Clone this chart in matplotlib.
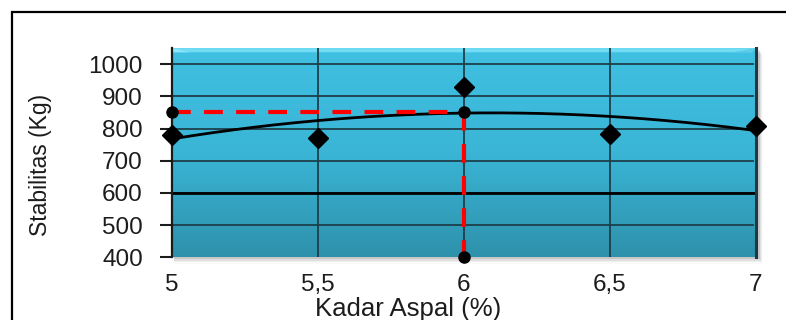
import matplotlib
matplotlib.use("Agg")
import matplotlib.pyplot as plt
import numpy as np
from matplotlib.colors import LinearSegmentedColormap
from matplotlib.patches import Polygon, Rectangle

# asphalt content (%) vs Marshall stability (kg)
kadar_aspal = [5.0, 5.5, 6.0, 6.5, 7.0]
stabilitas = [781, 772, 928, 784, 807]

# optimum read-off from the trend curve
opt_kadar = 6.0
opt_stabilitas = 850
batas_min = 600  # minimum stability requirement

x_ticks = [5, 5.5, 6, 6.5, 7]
x_ticklabels = ["5", "5,5", "6", "6,5", "7"]
y_ticks = [400, 500, 600, 700, 800, 900, 1000]

plt.rcParams["font.family"] = ["Liberation Sans", "DejaVu Sans"]
text_c = "#1c1c1c"

W, H = 786, 320
fig = plt.figure(figsize=(W / 100, H / 100), dpi=100)

# outer chart frame
fig.add_artist(Rectangle((12 / W, -0.1), 1.2, (H - 12) / H + 0.1, transform=fig.transFigure,
                         fill=False, edgecolor="black", linewidth=1.6))

left, right, top, bottom = 172, 756, 48.1, 257.3
ax = fig.add_axes([left / W, 1 - bottom / H, (right - left) / W, (bottom - top) / H])
ax.set_xlim(5, 7)
ax.set_ylim(400, 1050)

# plot-area drop shadow
for i, a in enumerate([0.10, 0.07, 0.04, 0.02]):
    fig.add_artist(Rectangle(((left + 2) / W, 1 - (bottom + 2 + i * 1.5) / H),
                             (right - left + 2 + i) / W, (bottom - top) / H,
                             transform=fig.transFigure, facecolor="black", alpha=a,
                             edgecolor="none", zorder=-1))

# blue gradient fill
cmap = LinearSegmentedColormap.from_list("bg", ["#2e91ab", "#3ab5d6", "#40c0e2"])
grad = np.linspace(0, 1, 256).reshape(-1, 1)
ax.imshow(grad, aspect="auto", cmap=cmap, origin="lower", extent=[5, 7, 400, 1050], zorder=0)

# bevel: light top strip, dark right edge
ax.add_patch(Polygon([[0, 1], [1, 1], [0.993, 0.98], [0.0, 0.98]], closed=True,
                     transform=ax.transAxes, facecolor="#72dcf4", edgecolor="none", zorder=1))
ax.add_patch(Polygon([[0.0, 1], [0.03, 0.98], [0.0, 0.98]], closed=True,
                     transform=ax.transAxes, facecolor="#8fe6f8", edgecolor="none", zorder=1))
ax.add_patch(Polygon([[0.96, 0.98], [0.993, 0.98], [1, 1]], closed=True,
                     transform=ax.transAxes, facecolor="#5ccbe6", edgecolor="none", zorder=1))
ax.plot([1, 1], [0, 1], transform=ax.transAxes, color="#1d3a44", lw=2.2, zorder=6, clip_on=False)

# grid
grid_c = "#1d3f4a"
for yv in y_ticks[1:]:
    ax.plot([5, 6.99], [yv, yv], color=grid_c, lw=1.3, zorder=2)
for xv in x_ticks[1:-1]:
    ax.plot([xv, xv], [400, 1050], color=grid_c, lw=1.3, zorder=2)

# minimum requirement line
ax.plot([5, 7], [batas_min, batas_min], color="black", lw=2.0, zorder=3)

# quadratic trend line
coef = np.polyfit(kadar_aspal, stabilitas, 2)
xs = np.linspace(5, 7, 200)
ax.plot(xs, np.polyval(coef, xs), color="black", lw=2.0, zorder=4)

# optimum guide lines
ax.plot([5, opt_kadar], [opt_stabilitas, opt_stabilitas], color="#ff0000", lw=3,
        dashes=(4.5, 3.2), zorder=5, clip_on=False)
ax.plot([opt_kadar, opt_kadar], [opt_stabilitas, 400], color="#ff0000", lw=3,
        dashes=(4.5, 3.2), zorder=5, clip_on=False)
ax.plot([5, opt_kadar, opt_kadar], [opt_stabilitas, opt_stabilitas, 400], "o",
        color="black", ms=8, zorder=7, clip_on=False)

# data points
ax.plot(kadar_aspal, stabilitas, "D", color="black", ms=10, zorder=8, clip_on=False)

# axes styling
for side in ["top", "right", "bottom"]:
    ax.spines[side].set_visible(False)
ax.spines["left"].set_color("#1a1a1a")
ax.spines["left"].set_linewidth(1.6)
ax.spines["left"].set_zorder(6)

ax.set_xticks(x_ticks)
ax.set_xticklabels(x_ticklabels)
ax.set_yticks(y_ticks)
ax.tick_params(axis="x", length=0, pad=12, labelsize=17.5, colors=text_c)
ax.tick_params(axis="y", direction="out", length=9, width=1.5, pad=12, labelsize=17.5,
               colors=text_c)

ax.set_xlabel("Kadar Aspal (%)", fontsize=18.5, color=text_c)
ax.xaxis.set_label_coords(0.404, -0.19)
ax.xaxis.label.set_va("top")
ax.set_ylabel("Stabilitas (Kg)", fontsize=16.5, color=text_c)
ax.yaxis.set_label_coords(-0.205, 0.44)

fig.savefig("out.png", dpi=100)
